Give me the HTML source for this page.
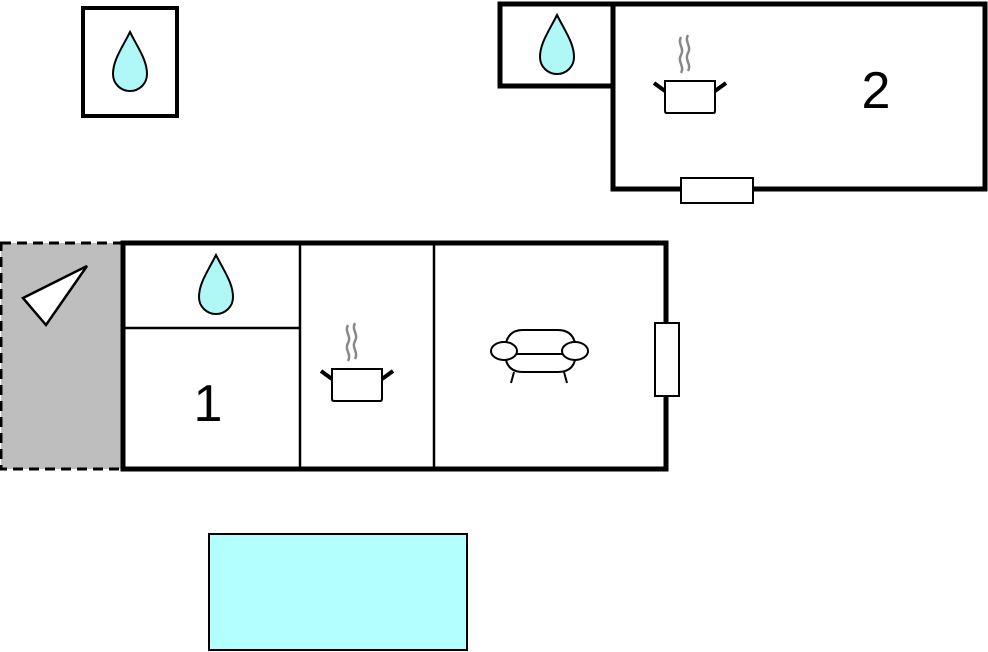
<!DOCTYPE html>
<html><head><style>body{margin:0;background:#fff}svg{display:block}</style></head><body>
<svg width="988" height="652" viewBox="0 0 988 652" xmlns="http://www.w3.org/2000/svg">
<defs>
<g id="drop"><path d="M0,-30 C-8,-14 -17,-2 -17,12 C-17,22 -9,29 0,29 C9,29 17,22 17,12 C17,-2 8,-14 0,-30Z" fill="#b0f8f8" stroke="#000" stroke-width="2"/></g>
<g id="pot">
<path d="M-9,-52 c-4,7 4,11 0,18 c-4,7 4,11 0,18 M-2,-54 c-4,7 4,11 0,18 c-4,7 4,11 0,18" fill="none" stroke="#888" stroke-width="2.5"/>
<path d="M-25,-8 h50 v30 q0,2 -2,2 h-46 q-2,0 -2,-2Z" fill="#fff" stroke="#000" stroke-width="2"/>
<path d="M-25,2 l-11,-8 M25,2 l11,-8" stroke="#000" stroke-width="4"/>
</g>
</defs>
<rect x="83" y="8" width="94" height="108" fill="#fff" stroke="#000" stroke-width="4"/>
<use href="#drop" x="130" y="62"/>
<rect x="613" y="4" width="372" height="185" fill="#fff" stroke="#000" stroke-width="5"/>
<rect x="500" y="4" width="113" height="82" fill="#fff" stroke="#000" stroke-width="5"/>
<line x1="613" y1="4" x2="613" y2="86" stroke="#000" stroke-width="2"/>
<use href="#drop" x="557" y="45"/>
<use href="#pot" x="690" y="89"/>
<text x="876" y="108" font-family="Liberation Sans, sans-serif" font-size="52" text-anchor="middle">2</text>
<rect x="681" y="178" width="72" height="25" fill="#fff" stroke="#000" stroke-width="2"/>
<rect x="1" y="243" width="122" height="226" fill="#bebebe" stroke="#000" stroke-width="3" stroke-dasharray="10,6"/>
<polygon points="87,266 23,298 46,325" fill="#fff" stroke="#000" stroke-width="2.5"/>
<rect x="123" y="243" width="543" height="226" fill="#fff" stroke="#000" stroke-width="5"/>
<line x1="300" y1="243" x2="300" y2="469" stroke="#000" stroke-width="2.5"/>
<line x1="434" y1="243" x2="434" y2="469" stroke="#000" stroke-width="2.5"/>
<line x1="123" y1="328" x2="300" y2="328" stroke="#000" stroke-width="2.5"/>
<use href="#drop" x="216" y="285"/>
<text x="208" y="421" font-family="Liberation Sans, sans-serif" font-size="52" text-anchor="middle">1</text>
<use href="#pot" x="357" y="377"/>
<g fill="#fff" stroke="#000" stroke-width="2">
<path d="M505,352 q0,-22 18,-22 h35 q18,0 18,22"/>
<path d="M505,352 q0,20 18,20 h35 q18,0 18,-20"/>
<line x1="514" y1="372" x2="511" y2="383"/>
<line x1="564" y1="372" x2="567" y2="383"/>
<line x1="515" y1="354" x2="565" y2="354"/>
<ellipse cx="504" cy="351" rx="13" ry="9"/>
<ellipse cx="575" cy="351" rx="13" ry="9"/>
</g>
<rect x="655" y="323" width="24" height="73" fill="#fff" stroke="#000" stroke-width="2"/>
<rect x="209" y="534" width="258" height="116" fill="#b3ffff" stroke="#000" stroke-width="2"/>
</svg>
</body></html>
